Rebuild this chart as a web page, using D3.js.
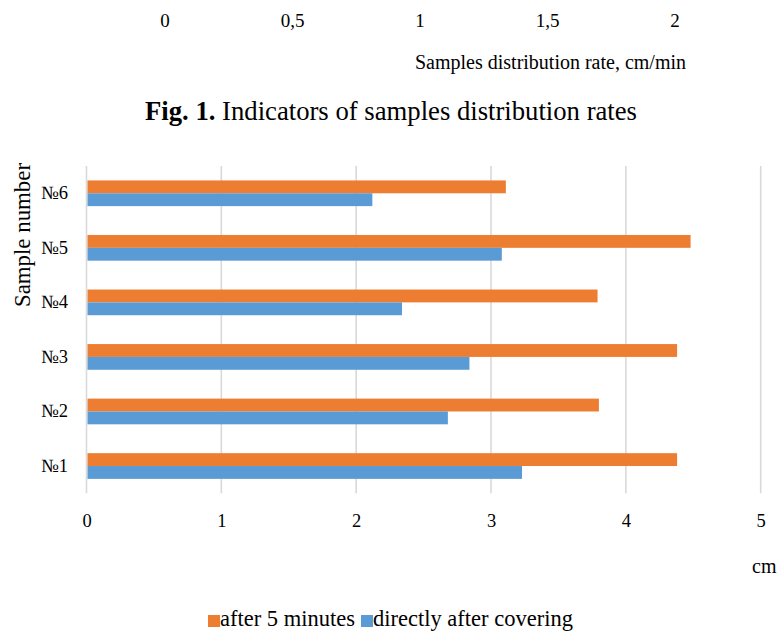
<!DOCTYPE html>
<html>
<head>
<meta charset="utf-8">
<script src="https://cdn.jsdelivr.net/npm/d3@7/dist/d3.min.js"></script>
<style>
  html, body { margin: 0; padding: 0; background: #fff; }
  svg { display: block; }
  text { font-family: "Liberation Serif", "Times New Roman", serif; fill: #000; }
</style>
</head>
<body>
<svg id="chart" width="781" height="635"></svg>
<script>
// ---- data ----
const categories = ["№1", "№2", "№3", "№4", "№5", "№6"];
const seriesNames = ["after 5 minutes", "directly after covering"];
const after5 = [4.38, 3.80, 4.38, 3.79, 4.48, 3.11];
const directly = [3.23, 2.68, 2.84, 2.34, 3.08, 2.12];
const xTicks = [0, 1, 2, 3, 4, 5];
const topTicks = [0, 0.5, 1, 1.5, 2];
const colors = ["#ED7D31", "#5B9BD5"];

const svg = d3.select("#chart");
const serif = "Liberation Serif, Times New Roman, serif";

// ---- leftover axis from previous figure (top) ----
const xTop = d3.scaleLinear().domain([0, 2]).range([165, 675]);
svg.append("g").selectAll("text").data(topTicks).join("text")
  .attr("x", d => xTop(d)).attr("y", 27)
  .attr("text-anchor", "middle").attr("font-size", 19)
  .text(d => String(d).replace(".", ","));
svg.append("text").attr("x", 415).attr("y", 69).attr("font-size", 20)
  .attr("textLength", 271).attr("lengthAdjust", "spacingAndGlyphs")
  .text("Samples distribution rate, cm/min");

// caption
const cap = svg.append("text").attr("x", 145).attr("y", 120)
  .attr("font-size", 26.5).attr("textLength", 492).attr("lengthAdjust", "spacingAndGlyphs");
cap.append("tspan").attr("font-weight", "bold").text("Fig. 1.");
cap.append("tspan").text(" Indicators of samples distribution rates");

// ---- main chart ----
const plotTop = 166, plotBottom = 493.3;
const x = d3.scaleLinear().domain([0, 5]).range([86.5, 760.7]);
const y = d3.scaleBand().domain(categories.slice().reverse())
  .range([plotTop, plotBottom]).paddingInner(0.529).paddingOuter(0.2645);
const ySub = d3.scaleBand().domain(seriesNames).range([0, y.bandwidth()]);

// gridlines
svg.append("g").selectAll("line").data(xTicks).join("line")
  .attr("x1", d => x(d)).attr("x2", d => x(d))
  .attr("y1", plotTop).attr("y2", plotBottom)
  .attr("stroke", "#d9d9d9").attr("stroke-width", 1.6);

// bars
const rows = categories.map((c, i) => ({ cat: c, vals: [after5[i], directly[i]] }));
const groups = svg.append("g").selectAll("g").data(rows).join("g")
  .attr("transform", d => `translate(0,${y(d.cat)})`);
groups.selectAll("rect").data(d => d.vals.map((v, j) => ({ v, s: seriesNames[j], c: colors[j] })))
  .join("rect")
  .attr("x", x(0) + 1)
  .attr("y", d => ySub(d.s))
  .attr("width", d => x(d.v) - x(0) - 1)
  .attr("height", ySub.bandwidth())
  .attr("fill", d => d.c);

// x axis labels
const xAxis = d3.axisBottom(x).tickValues(xTicks).tickSize(0).tickPadding(0).tickFormat(d3.format("d"));
const gx = svg.append("g").attr("transform", `translate(0,${plotBottom + 21})`).call(xAxis);
gx.select(".domain").remove();
gx.selectAll("text").attr("font-size", 18.5).attr("fill", "#000").attr("font-family", serif);

// y axis labels
const yAxis = d3.axisLeft(y).tickSize(0).tickPadding(0);
const gy = svg.append("g").attr("transform", `translate(68,0)`).call(yAxis);
gy.select(".domain").remove();
gy.selectAll("text").attr("font-size", 18.5).attr("fill", "#000").attr("font-family", serif);

// y title
svg.append("text").attr("transform", "translate(30,235) rotate(-90)")
  .attr("text-anchor", "middle").attr("font-size", 23)
  .attr("textLength", 144).attr("lengthAdjust", "spacingAndGlyphs")
  .text("Sample number");

// x unit
svg.append("text").attr("x", 752).attr("y", 573).attr("font-size", 20).text("cm");

// legend
const legend = svg.append("g");
const legX = [208, 361];
seriesNames.forEach((s, i) => {
  legend.append("rect").attr("x", legX[i]).attr("y", 615).attr("width", 12).attr("height", 12).attr("fill", colors[i]);
  legend.append("text").attr("x", legX[i] + 12).attr("y", 626).attr("font-size", 22.5).text(s);
});
</script>
</body>
</html>
